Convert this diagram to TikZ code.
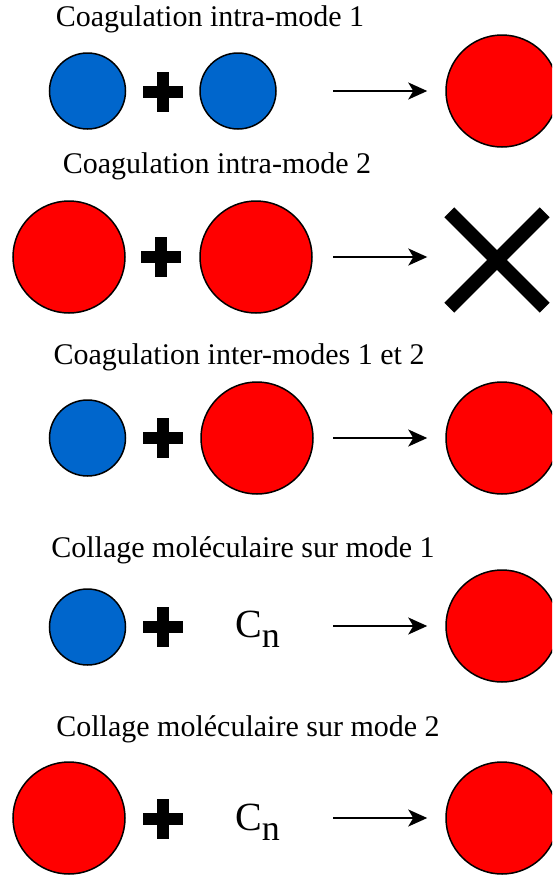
\documentclass[tikz,border=0pt]{standalone}
\usepackage{fontspec}
\setmainfont{Liberation Serif}
\usetikzlibrary{arrows.meta}
\definecolor{modeone}{RGB}{0,102,204}
\definecolor{modetwo}{RGB}{255,0,0}
\tikzset{
  title/.style={anchor=base, inner sep=0pt, font=\fontsize{30}{36}\selectfont},
  small/.style={circle, draw, line width=1.5pt, fill=modeone, minimum size=76pt, inner sep=0pt},
  big/.style={circle, draw, line width=1.5pt, fill=modetwo, minimum size=112pt, inner sep=0pt},
  plus/.style={minimum size=40pt, inner sep=0pt,
    path picture={\draw[line width=12pt] (path picture bounding box.west) -- (path picture bounding box.east)
                                         (path picture bounding box.north) -- (path picture bounding box.south);}},
  nogo/.style={minimum size=95pt, inner sep=0pt},
  mol/.style={anchor=base west, inner sep=0pt, font=\fontsize{40}{48}\selectfont},
  reac/.style={line width=2pt, -{Stealth[length=19pt,width=17pt,inset=5pt]}, shorten >=18pt}
}
\newcommand{\molname}{C\raisebox{-10pt}{\fontsize{36}{40}\selectfont n}}
\begin{document}
\begin{tikzpicture}[x=1pt, y=-1pt]
\clip (0,0) rectangle (552,876);

\node[title] (t1) at (210,26) {Coagulation intra-mode 1};
\node[small] (a1) at (87.5,91) {};
\node[plus]  (p1) at (163,92) {};
\node[small] (b1) at (238,91) {};
\node[big]   (r1) at (502,91) {};
\coordinate (s1) at (333,91);
\draw[reac] (s1) -- (s1 -| r1.west);

\node[title] (t2) at (217,173) {Coagulation intra-mode 2};
\node[big]   (a2) at (69,257) {};
\node[plus]  (p2) at (161,257) {};
\node[big]   (b2) at (256,257) {};
\node[nogo]  (r2) at (497,260) {};
\draw[line width=14pt] (r2.north west) -- (r2.south east)
                       (r2.north east) -- (r2.south west);
\coordinate (s2) at (333,257);
\draw[reac, shorten >=22pt] (s2) -- (s2 -| r2.west);

\node[title] (t3) at (239,364) {Coagulation inter-modes 1 et 2};
\node[small] (a3) at (87.5,438) {};
\node[plus]  (p3) at (163,438) {};
\node[big]   (b3) at (257,438) {};
\node[big]   (r3) at (502,438) {};
\coordinate (s3) at (333,438);
\draw[reac] (s3) -- (s3 -| r3.west);

\node[title] (t4) at (243,557) {Collage moléculaire sur mode 1};
\node[small] (a4) at (87.5,627) {};
\node[plus]  (p4) at (163,627) {};
\node[mol]   (b4) at (235,637) {\molname};
\node[big]   (r4) at (502,626) {};
\coordinate (s4) at (333,626);
\draw[reac] (s4) -- (s4 -| r4.west);

\node[title] (t5) at (248,736) {Collage moléculaire sur mode 2};
\node[big]   (a5) at (69,818) {};
\node[plus]  (p5) at (163,819) {};
\node[mol]   (b5) at (235,830) {\molname};
\node[big]   (r5) at (502,818) {};
\coordinate (s5) at (333,818);
\draw[reac] (s5) -- (s5 -| r5.west);
\end{tikzpicture}
\end{document}
